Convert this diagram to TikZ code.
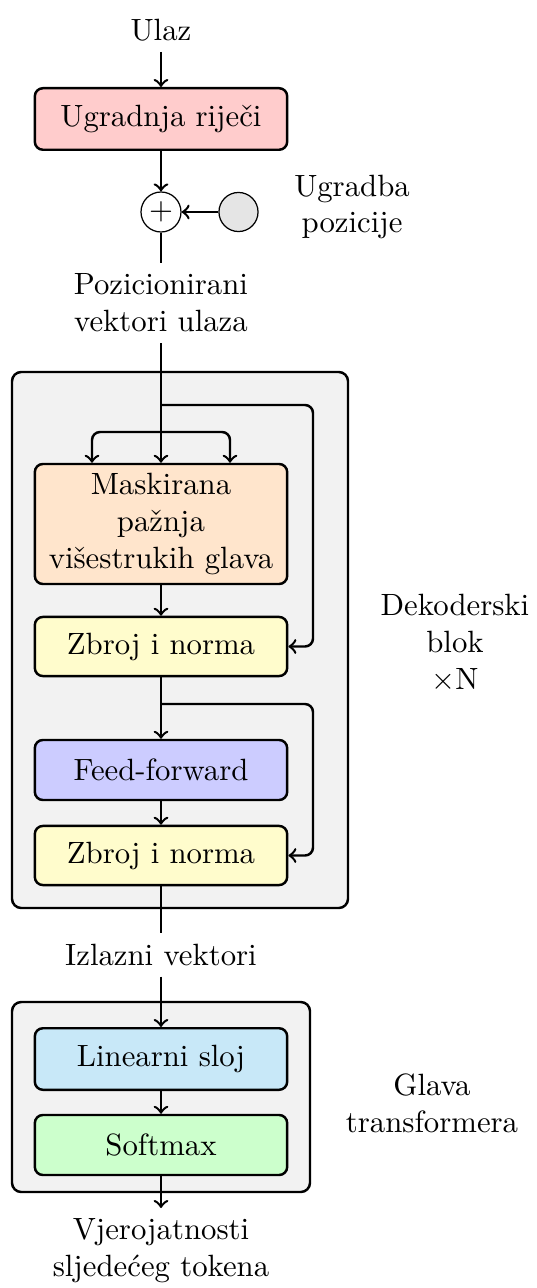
\documentclass[tikz,border=0pt]{standalone}
\usetikzlibrary{calc}
\definecolor{linblue}{RGB}{200,232,248}
\begin{document}
\begin{tikzpicture}[x=0.325pt, y=-0.325pt]
\tikzset{
  blk/.style={draw, thick, rounded corners=2.6pt, minimum width=82pt,
    minimum height=20pt, inner sep=2pt, align=center},
  bgbox/.style={draw, thick, rounded corners=3pt, fill=gray!10, inner sep=0pt},
  lbl/.style={align=center},
  flow/.style={->, thick},
  bypass/.style={->, thick, rounded corners=2.6pt},
}
\useasboundingbox (0,0) rectangle (537,1288);

% grouping panels
\node[bgbox, minimum width=109.2pt, minimum height=174.2pt] (dec) at (180,640) {};
\node[bgbox, minimum width=96.85pt, minimum height=61.75pt] (headbox) at (161,1097) {};

% input and embedding
\node[lbl] (in) at (161,30) {Ulaz};
\node[blk, fill=red!20] (emb) at (161,119) {Ugradnja riječi};
\node[draw, thin, circle, minimum size=13pt, inner sep=0pt] (plus) at (161,212) {$+$};
\node[draw, thin, circle, fill=gray!20, minimum size=12.7pt, inner sep=0pt] (pos) at (238.5,212) {};
\node[lbl] (poslbl) at (352,207) {Ugradba\\pozicije};
\node[lbl] (posin) at (161,303) {Pozicionirani\\vektori ulaza};

% decoder block
\node[blk, fill=orange!20, minimum height=39pt] (mha) at (161,524) {Maskirana\\pažnja\\višestrukih glava};
\node[blk, fill=yellow!20, minimum height=19.2pt] (add1) at (161,646.5) {Zbroj i norma};
\node[blk, fill=blue!20, minimum height=19.5pt] (ff) at (161,770) {Feed-forward};
\node[blk, fill=yellow!20, minimum height=19.2pt] (add2) at (161,855.5) {Zbroj i norma};
\node[lbl] (declbl) at (455,643) {Dekoderski\\blok\\$\times$N};

% output head
\node[lbl] (out) at (161,955) {Izlazni vektori};
\node[blk, fill=linblue] (lin) at (161,1059) {Linearni sloj};
\node[blk, fill=green!20, minimum height=19.5pt] (soft) at (161,1145) {Softmax};
\node[lbl] (headlbl) at (432,1103) {Glava\\transformera};
\node[lbl] (prob) at (161,1251) {Vjerojatnosti\\sljedećeg tokena};

% main flow
\draw[flow] (in) -- (emb);
\draw[flow] (emb) -- (plus);
\draw[flow] (pos) -- (plus);
\draw[thick] (plus) -- (posin);
\draw[flow] (posin) -- (mha);
\draw[flow] (mha) -- (add1);
\draw[flow] (add1) -- (ff);
\draw[flow] (ff) -- (add2);
\draw[thick] (add2) -- (out);
\draw[flow] (out) -- (lin);
\draw[flow] (lin) -- (soft);
\draw[flow] (soft) -- (prob);

% residual and attention branches
\coordinate (b1) at (161,405);
\coordinate (b2) at (161,432);
\coordinate (b3) at (161,704);
\path (mha.north) ++(-69,0) coordinate (m1) ++(138,0) coordinate (m2);
\draw[bypass] (b1) -- (313,405) |- (add1.east);
\draw[bypass] (b2) -| (m1);
\draw[bypass] (b2) -| (m2);
\draw[bypass] (b3) -- (313,704) |- (add2.east);
\end{tikzpicture}
\end{document}
